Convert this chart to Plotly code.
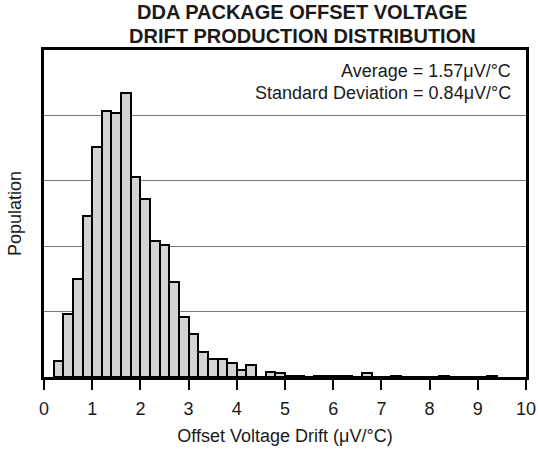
import plotly.graph_objects as go

# Histogram bins (left edge of each 0.2 µV/°C bin) and population counts
bin_start = [0.2, 0.4, 0.6, 0.8, 1.0, 1.2, 1.4, 1.6, 1.8, 2.0,
             2.2, 2.4, 2.6, 2.8, 3.0, 3.2, 3.4, 3.6, 3.8, 4.0,
             4.2, 4.4, 4.6, 4.8, 5.0, 5.2, 5.4, 5.6, 5.8, 6.0,
             6.2, 6.4, 6.6, 6.8, 7.0, 7.2, 7.4, 7.6, 7.8, 8.0,
             8.2, 8.4, 8.6, 8.8, 9.0, 9.2]
counts = [12, 48, 75, 123, 176, 203, 202, 217, 153, 136,
          104, 101, 73, 46, 33, 19, 14, 14, 11, 5,
          9, 0, 4, 3, 1, 1, 0, 1, 1, 1,
          1, 0, 3, 0, 0, 1, 0, 0, 0, 0,
          1, 0, 0, 0, 0, 1]
bin_width = 0.2
x_ticks = [0, 1, 2, 3, 4, 5, 6, 7, 8, 9, 10]
y_grid = [0, 50, 100, 150, 200, 250]

title_lines = ["DDA PACKAGE OFFSET VOLTAGE", "DRIFT PRODUCTION DISTRIBUTION"]
stats_lines = ["Average = 1.57\u03bcV/°C", "Standard Deviation = 0.84\u03bcV/°C"]

FONT = "Liberation Sans, Arial, Helvetica, sans-serif"
TXT = "#1a1a1a"

centers = [b + bin_width / 2 for b in bin_start]

fig = go.Figure(go.Bar(
    x=centers, y=counts, width=bin_width,
    marker=dict(color="#d3d3d3", line=dict(color="black", width=2)),
    hoverinfo="skip",
))

fig.update_layout(
    width=538, height=457,
    margin=dict(l=44, r=12, t=50, b=80),
    paper_bgcolor="white", plot_bgcolor="white",
    showlegend=False,
    font=dict(family=FONT, size=18, color=TXT),
    bargap=0,
)

fig.update_xaxes(
    range=[0, 10], tickmode="array", tickvals=x_ticks,
    ticks="outside", ticklen=10, tickwidth=1.5, tickcolor="black",
    ticklabelstandoff=4,
    showline=True, linecolor="black", linewidth=2.5, mirror=True,
    showgrid=False, zeroline=False,
    tickfont=dict(size=18, color=TXT, family=FONT),
    title=dict(text="Offset Voltage Drift (\u03bcV/°C)", font=dict(size=18, color=TXT, family=FONT), standoff=12),
    automargin=False,
)
fig.update_yaxes(
    range=[0, 250], tickmode="array", tickvals=y_grid,
    showticklabels=False, ticks="",
    showgrid=True, gridcolor="#7a7a7a", gridwidth=1,
    showline=True, linecolor="black", linewidth=2.5, mirror=True,
    zeroline=False,
    title=dict(text="Population", font=dict(size=18, color=TXT, family=FONT), standoff=15),
    automargin=False,
)

# Bold two-line title, each line placed separately (pixel centres 12 and 35)
for txt, ypix in zip(title_lines, [12.5, 35.5]):
    fig.add_annotation(text=f"<b>{txt}</b>", xref="paper", yref="paper",
                       x=0.536, y=1.0 + (50 - ypix) / 327, xanchor="center", yanchor="middle",
                       showarrow=False, borderpad=0,
                       font=dict(size=20, color=TXT, family=FONT))

for txt, yp in zip(stats_lines, [0.936, 0.8685]):
    fig.add_annotation(text=txt, xref="paper", yref="paper",
                       x=0.973, y=yp, xanchor="right", yanchor="middle",
                       showarrow=False, font=dict(size=18, color=TXT, family=FONT))

fig.write_html("out.html", config={"displayModeBar": False},
               post_script="document.body.style.margin='0';")
